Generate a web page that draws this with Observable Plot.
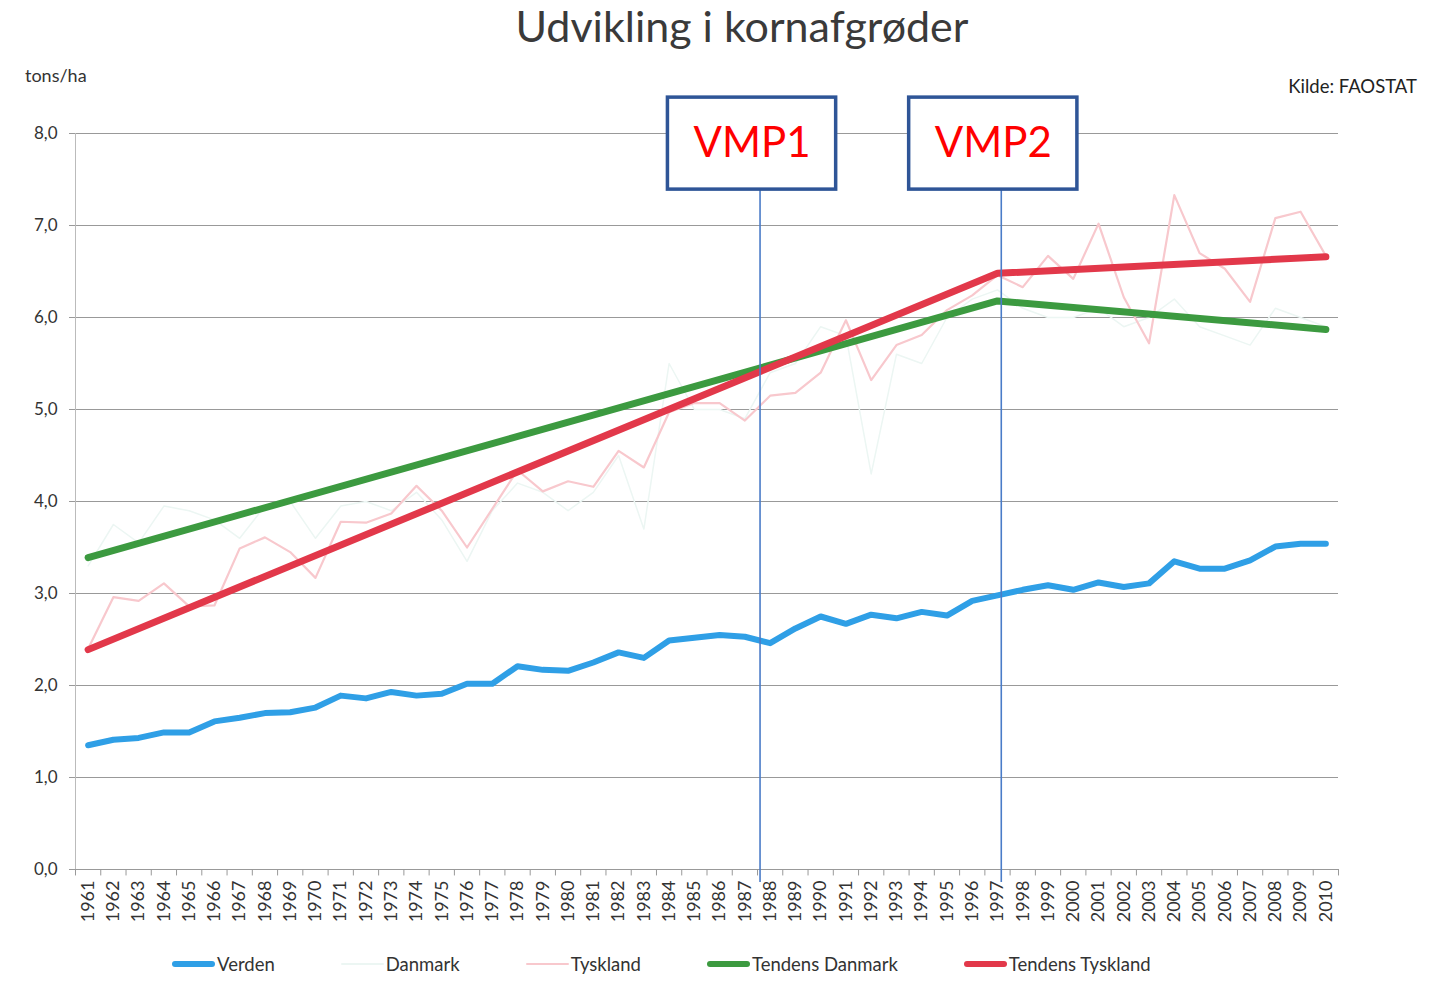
<!DOCTYPE html>
<html>
<head>
<meta charset="utf-8">
<script src="https://cdn.jsdelivr.net/npm/d3@7"></script>
<script src="https://cdn.jsdelivr.net/npm/@observablehq/plot@0.6"></script>
<style>
  html, body { margin: 0; padding: 0; background: #fff; }
  #wrap { position: relative; width: 1448px; height: 991px; font-family: Lato, "Open Sans", sans-serif; color: #333; overflow: hidden; }
  #title { position: absolute; top: 0px; left: 36px; right: 0; text-align: center; font-size: 43px; color: #3a3a3a; }
  #unit { position: absolute; top: 64px; left: 25px; font-size: 18px; color: #333; }
  #source { position: absolute; top: 75px; right: 31px; font-size: 18.5px; color: #222; }
  #chart { position: absolute; top: 0; left: 0; }
  #legend { position: absolute; top: 953px; left: 172px; display: flex; gap: 66px; font-size: 18.5px; color: #333; }
  .item { display: flex; align-items: center; }
  .sw { width: 43px; height: 5px; border-radius: 3px; margin-right: 2px; }
</style>
</head>
<body>
<div id="wrap">
  <div id="title">Udvikling i kornafgrøder</div>
  <div id="unit">tons/ha</div>
  <div id="source">Kilde: FAOSTAT</div>
  <div id="chart"></div>
  <div id="legend"></div>
</div>
<script>
const years = [1961,1962,1963,1964,1965,1966,1967,1968,1969,1970,
  1971,1972,1973,1974,1975,1976,1977,1978,1979,1980,
  1981,1982,1983,1984,1985,1986,1987,1988,1989,1990,
  1991,1992,1993,1994,1995,1996,1997,1998,1999,2000,
  2001,2002,2003,2004,2005,2006,2007,2008,2009,2010];

const verden = [1.35,1.41,1.43,1.49,1.49,1.61,1.65,1.70,1.71,1.76,
  1.89,1.86,1.93,1.89,1.91,2.02,2.02,2.21,2.17,2.16,
  2.25,2.36,2.30,2.49,2.52,2.55,2.53,2.46,2.62,2.75,
  2.67,2.77,2.73,2.80,2.76,2.92,2.98,3.04,3.09,3.04,
  3.12,3.07,3.11,3.35,3.27,3.27,3.36,3.51,3.54,3.54];

const danmark = [3.30,3.75,3.55,3.95,3.90,3.80,3.60,3.95,4.00,3.60,
  3.95,4.00,3.90,4.10,3.80,3.35,3.90,4.20,4.10,3.90,
  4.10,4.50,3.70,5.50,5.00,5.00,4.90,5.40,5.50,5.90,
  5.80,4.30,5.60,5.50,6.00,6.20,6.30,6.10,6.00,6.00,
  6.10,5.90,6.00,6.20,5.90,5.80,5.70,6.10,6.00,5.90];

const tyskland = [2.40,2.96,2.92,3.11,2.86,2.87,3.49,3.61,3.45,3.17,
  3.78,3.77,3.87,4.17,3.90,3.50,3.92,4.34,4.11,4.22,
  4.16,4.55,4.37,4.97,5.07,5.07,4.88,5.15,5.18,5.40,
  5.97,5.32,5.70,5.81,6.08,6.24,6.46,6.33,6.67,6.42,
  7.02,6.22,5.72,7.33,6.70,6.53,6.17,7.08,7.15,6.67];

const trendYears = [1961, 1997, 2010];
const tendensDanmark = [3.39, 6.18, 5.87];
const tendensTyskland = [2.39, 6.48, 6.66];

const vmpLabels = ["VMP1", "VMP2"];
const vmpYears = [1987.6, 1997.15];

const yTicks = [0,1,2,3,4,5,6,7,8];

const seriesNames = ["Verden", "Danmark", "Tyskland", "Tendens Danmark", "Tendens Tyskland"];
const seriesColors = ["#2f9fe6", "#ecf6f3", "#f8c8cd", "#3c9a40", "#e2384a"];
const seriesWidths = [6, 1.5, 2.2, 7, 7];

const rows = (vals, xs) => xs.map((x, i) => ({x, y: vals[i]}));
const verdenData = rows(verden, years);
const danmarkData = rows(danmark, years);
const tysklandData = rows(tyskland, years);
const tdData = rows(tendensDanmark, trendYears);
const ttData = rows(tendensTyskland, trendYears);
const vmp = vmpLabels.map((label, i) => ({label, year: vmpYears[i]}));
const boundaries = years.map(y => y - 0.5).concat([years[years.length - 1] + 0.5]);

const fmt = d => d.toFixed(1).replace(".", ",");

const chart = Plot.plot({
  width: 1448,
  height: 950,
  marginLeft: 75,
  marginRight: 110,
  marginTop: 133,
  marginBottom: 81,
  style: { fontFamily: "Lato, 'Open Sans', sans-serif", color: "#333", background: "transparent" },
  x: { domain: [1960.5, 2010.5] },
  y: { domain: [0, 8] },
  marks: [
    Plot.gridY(yTicks, { stroke: "#999", strokeOpacity: 1, strokeWidth: 1 }),
    Plot.ruleX([boundaries[0]], { stroke: "#bbb", strokeWidth: 1 }),
    Plot.ruleY([0], { stroke: "#999", strokeWidth: 1 }),
    Plot.ruleX(boundaries, { y1: 0, y2: -0.07, stroke: "#999", strokeWidth: 1 }),
    Plot.axisY({ ticks: yTicks, tickFormat: fmt, tickSize: 6, tickPadding: 12, fontSize: 17, stroke: "#999", label: null }),
    Plot.axisX({ ticks: years, tickFormat: d => String(d), tickSize: 0, tickRotate: -90, tickPadding: 11, fontSize: 18, label: null }),
    Plot.line(danmarkData, { x: "x", y: "y", stroke: seriesColors[1], strokeWidth: seriesWidths[1] }),
    Plot.line(tysklandData, { x: "x", y: "y", stroke: seriesColors[2], strokeWidth: seriesWidths[2] }),
    Plot.line(tdData, { x: "x", y: "y", stroke: seriesColors[3], strokeWidth: seriesWidths[3], strokeLinecap: "round", strokeLinejoin: "round" }),
    Plot.line(ttData, { x: "x", y: "y", stroke: seriesColors[4], strokeWidth: seriesWidths[4], strokeLinecap: "round", strokeLinejoin: "round" }),
    Plot.line(verdenData, { x: "x", y: "y", stroke: seriesColors[0], strokeWidth: seriesWidths[0], strokeLinecap: "round", strokeLinejoin: "round" }),
    Plot.ruleX(vmp, { x: "year", y1: -0.14, y2: 7.39, stroke: "#4a7cc8", strokeWidth: 1.6 }),
    Plot.rect(vmp, { x1: d => d.year - 3.33, x2: d => d.year + 3.33, y1: 7.39, y2: 8.39, dx: -8, fill: "white", stroke: "#2f5597", strokeWidth: 3.5 }),
    Plot.text(vmp, { x: "year", y: 7.89, text: "label", dx: -8, fill: "#ff0000", fontSize: 42, textAnchor: "middle" })
  ]
});
document.getElementById("chart").appendChild(chart);

const legend = document.getElementById("legend");
seriesNames.forEach((name, i) => {
  const item = document.createElement("div");
  item.className = "item";
  const sw = document.createElement("div");
  sw.className = "sw";
  sw.style.background = seriesColors[i];
  sw.style.height = Math.max(2, Math.min(seriesWidths[i], 6)) + "px";
  const t = document.createElement("span");
  t.textContent = name;
  item.appendChild(sw);
  item.appendChild(t);
  legend.appendChild(item);
});
</script>
</body>
</html>
